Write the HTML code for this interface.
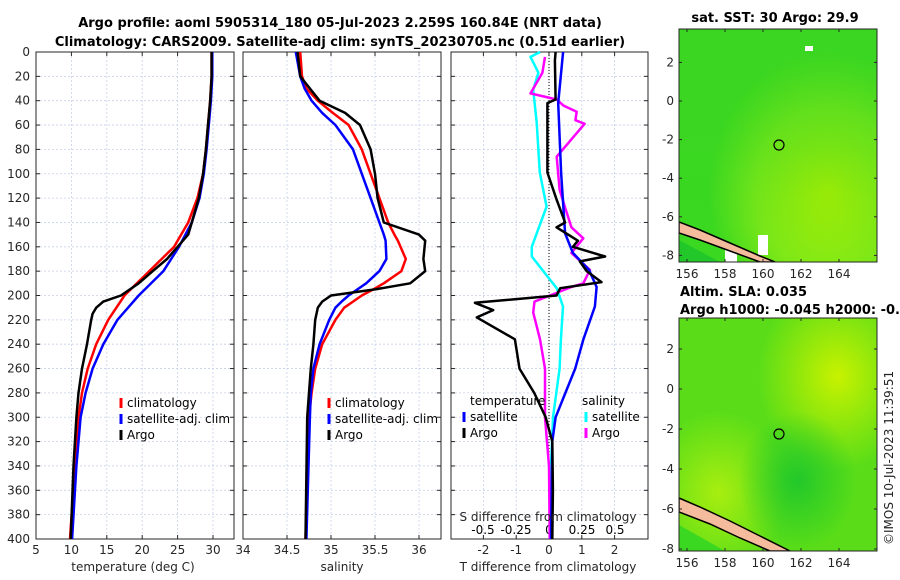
<!DOCTYPE html>
<html><head><meta charset="utf-8"><style>
body{margin:0;background:#fff;}
svg{display:block;font-family:"DejaVu Sans","Liberation Sans",sans-serif;}
.t{font-size:12px;fill:#262626;}
.b{font-size:13px;font-weight:bold;fill:#000;}
</style></head><body>
<svg id="c" width="900" height="580" viewBox="0 0 900 580">
<defs>
<radialGradient id="g1" cx="0.75" cy="0.7" r="0.6"><stop offset="0" stop-color="#b0f000"/><stop offset="0.6" stop-color="#7ee818"/><stop offset="1" stop-color="#3ad820"/></radialGradient>
<linearGradient id="gv" x1="0" y1="0" x2="0" y2="1"><stop offset="0" stop-color="#3cd422" stop-opacity="0.6"/><stop offset="0.5" stop-color="#3cd422" stop-opacity="0.35"/><stop offset="1" stop-color="#3cd422" stop-opacity="0"/></linearGradient>
<radialGradient id="g2" cx="0.8" cy="0.25" r="0.4"><stop offset="0" stop-color="#c8f200"/><stop offset="1" stop-color="#5add18"/></radialGradient>
<radialGradient id="g3" cx="0.2" cy="0.75" r="0.35"><stop offset="0" stop-color="#a8ee10"/><stop offset="1" stop-color="#a8ee10" stop-opacity="0"/></radialGradient>
<radialGradient id="g4" cx="0.6" cy="0.7" r="0.3"><stop offset="0" stop-color="#22c82a"/><stop offset="1" stop-color="#22c82a" stop-opacity="0"/></radialGradient>
<clipPath id="cm1"><rect x="679" y="29" width="198" height="233"/></clipPath>
<clipPath id="cm2"><rect x="679" y="318" width="198" height="233"/></clipPath>
</defs>
<text class="b" x="340" y="27" text-anchor="middle">Argo profile: aoml 5905314_180 05-Jul-2023 2.259S 160.84E (NRT data)</text>
<text class="b" x="340" y="46" text-anchor="middle">Climatology: CARS2009. Satellite-adj clim: synTS_20230705.nc (0.51d earlier)</text>
<g id="p1"></g>
<g id="p2"></g>
<g id="p3"></g>
<text class="t" x="133" y="571" text-anchor="middle" font-size="13">temperature (deg C)</text>
<text class="t" x="342" y="571" text-anchor="middle" font-size="13">salinity</text>
<text class="t" x="548" y="571" text-anchor="middle" font-size="13">T difference from climatology</text>
<text class="t" x="548" y="521" text-anchor="middle" font-size="13" fill="#000">S difference from climatology</text>
<g>
<g clip-path="url(#cm1)">
<rect x="679" y="29" width="198" height="233" fill="url(#g1)"/>
<rect x="679" y="29" width="198" height="233" fill="url(#gv)"/>
<rect x="805" y="46" width="8" height="5" fill="#fff"/>
<rect x="725" y="245" width="12" height="17" fill="#fff"/><rect x="758" y="235" width="10" height="20" fill="#fff"/>
<path d="M679,222 L700,230 L730,243 L760,256 L775,262 L760,262 L730,251 L700,240 L679,233Z" fill="#f4bc9c" stroke="#000" stroke-width="1.5"/>
<path d="M679,240 L720,262 L679,262Z" fill="#22c82a"/>
</g>
<rect x="679" y="29" width="198" height="233" fill="none" stroke="#262626"/>
<circle cx="779" cy="145" r="5" fill="none" stroke="#000" stroke-width="1.2"/>
<text class="b" x="775" y="22" text-anchor="middle">sat. SST: 30 Argo: 29.9</text>
</g>
<g>
<g clip-path="url(#cm2)">
<rect x="679" y="318" width="198" height="233" fill="#5ddc18"/>
<rect x="679" y="318" width="198" height="233" fill="url(#g2)"/>
<rect x="679" y="318" width="198" height="233" fill="url(#g3)"/>
<rect x="679" y="318" width="198" height="233" fill="url(#g4)"/>
<path d="M679,498 L700,507 L730,521 L760,536 L790,551 L770,551 L740,538 L710,524 L679,512Z" fill="#f4bc9c" stroke="#000" stroke-width="1.5"/>
<path d="M679,525 L725,551 L679,551Z" fill="#3ad820"/>
</g>
<rect x="679" y="318" width="198" height="233" fill="none" stroke="#262626"/>
<circle cx="779" cy="434" r="5" fill="none" stroke="#000" stroke-width="1.2"/>
<text class="b" x="680" y="296">Altim. SLA: 0.035</text>
<text class="b" x="680" y="314">Argo h1000: -0.045 h2000: -0.066</text>
</g>
<g id="maxes"></g>
<text class="t" transform="translate(893,545) rotate(-90)">©IMOS 10-Jul-2023 11:39:51</text>
</svg>
<script>
const depthT = [0,20,40,60,80,100,120,140,150,160,170,180,190,200,205,210,215,220,240,260,280,300,340,400];
const argoT  = [29.8,29.8,29.6,29.3,29,28.6,28,27,26.5,25,23.5,21.5,19.5,17,14.5,13.5,13,12.8,12.2,11.5,11,10.7,10.3,9.9];
const depthC = [0,20,40,60,80,100,120,140,160,180,200,220,240,260,280,300,340,400];
const climT  = [29.8,29.8,29.6,29.3,29,28.6,27.8,26.5,24.5,21,17.5,15.2,13.5,12.3,11.5,11,10.5,9.8];
const satT   = [29.9,29.9,29.7,29.4,29.1,28.7,28.1,27,25.2,23,19.5,16.5,14.5,13,12,11.3,10.7,10.1];
const depthS = [0,20,30,40,50,60,80,100,120,140,150,155,170,180,190,195,200,205,210,220,240,260,280,300,400];
const argoS  = [34.62,34.65,34.76,34.87,35.16,35.33,35.45,35.5,35.53,35.6,36.0,36.07,36.05,36.07,35.9,35.5,35.0,34.9,34.85,34.82,34.8,34.77,34.75,34.73,34.71];
const climS  = [34.65,34.67,34.72,34.85,35.02,35.2,35.35,35.45,35.55,35.65,35.72,35.76,35.85,35.8,35.6,35.48,35.35,35.25,35.15,35.05,34.9,34.82,34.78,34.75,34.71];
const satS   = [34.6,34.65,34.7,34.78,34.9,35.05,35.25,35.35,35.45,35.55,35.6,35.62,35.63,35.55,35.4,35.3,35.2,35.12,35.05,34.98,34.87,34.8,34.77,34.76,34.72];
const depthDA = [0,7,39,42,99,121,140,144,155,160,168,172,180,189,194,200,206,212,218,236,260,280,300,320,360,400];
const argoDT  = [0.2,0.18,0.2,-0.05,-0.05,0.23,0.49,0.23,0.88,0.73,1.71,0.94,1.15,1.6,0.34,0.23,-2.26,-1.7,-2.2,-1.04,-0.9,-0.45,-0.1,0.1,0.12,0.1];
const depthDB = [0,42,99,149,165,179,193,209,236,260,280,300,320,400];
const satDT   = [0.43,0.28,0.37,0.49,0.73,1.22,1.45,1.4,1.05,0.8,0.5,0.2,0.1,0.06];
const depthDS1 = [0,4,17,31,58,99,127,160,168,194,209,236,260,300,340,400];
const satDS    = [-0.068,-0.14,-0.08,-0.12,-0.093,-0.07,-0.018,-0.13,-0.13,0.058,0.106,0.09,0.08,0.03,0.015,0.008];
const depthDS2 = [4,17,34,39,44,49,56,59,86,113,127,144,153,165,179,190,193,205,214,236,260,300,340,400];
const argoDS   = [-0.03,-0.05,-0.14,0.058,0.11,0.21,0.2,0.27,0.058,0.08,0.12,0.17,0.26,0.17,0.31,0.26,0.17,-0.11,-0.12,-0.068,-0.03,-0.03,0,0.005];
const depthTicks = [0,20,40,60,80,100,120,140,160,180,200,220,240,260,280,300,320,340,360,380,400];
const tTicks = [5,10,15,20,25,30];
const sTicks = [34,34.5,35,35.5,36];
const dtTicks = [-2,-1,0,1,2];
const dsTicks = [-0.5,-0.25,0,0.25,0.5];
const lonTicks = [156,158,160,162,164];
const latTicks = [2,0,-2,-4,-6,-8];
const NS='http://www.w3.org/2000/svg';
const Y0=52, YS=1.2175, BOT=539;
const yOf=d=>Y0+d*YS;
const xT=v=>36+(v-5)*7.08;
const xS=v=>243+(v-34)*88;
const xDT=v=>549+v*32.8;
const xDS=v=>549+v*132;
function mk(p,tag,a){const e=document.createElementNS(NS,tag);for(const k in a)e.setAttribute(k,a[k]);p.appendChild(e);return e;}
function panel(g,x0,x1,xticks,xf,labels){
  depthTicks.forEach(d=>{mk(g,'line',{x1:x0,x2:x1,y1:yOf(d),y2:yOf(d),stroke:'#c8d0e8','stroke-width':0.8,'stroke-dasharray':'2,2'});});
  xticks.forEach(v=>{const x=xf(v);mk(g,'line',{x1:x,x2:x,y1:Y0,y2:BOT,stroke:'#c8d0e8','stroke-width':0.8,'stroke-dasharray':'2,2'});
    mk(g,'line',{x1:x,x2:x,y1:BOT,y2:BOT-4,stroke:'#262626'});mk(g,'line',{x1:x,x2:x,y1:Y0,y2:Y0+4,stroke:'#262626'});
    if(labels){const t=mk(g,'text',{x:x,y:BOT+15,'text-anchor':'middle',class:'t'});t.textContent=v;
      
      }});
  depthTicks.forEach(d=>{mk(g,'line',{x1:x0,x2:x0+4,y1:yOf(d),y2:yOf(d),stroke:'#262626'});mk(g,'line',{x1:x1,x2:x1-4,y1:yOf(d),y2:yOf(d),stroke:'#262626'});});
  mk(g,'rect',{x:x0,y:Y0,width:x1-x0,height:BOT-Y0,fill:'none',stroke:'#262626','stroke-width':1});
}
function line(g,ds,vs,xf,col,w,name){
  const pts=ds.map((d,i)=>xf(vs[i]).toFixed(1)+','+yOf(d).toFixed(1)).join(' ');
  const e=mk(g,'polyline',{points:pts,fill:'none',stroke:col,'stroke-width':w,'stroke-linejoin':'round'});
  
  
}
function legend(g,x,y,items){
  items.forEach((it,i)=>{const yy=y+i*16;mk(g,'line',{x1:x,x2:x,y1:yy-9,y2:yy+1,stroke:it[1],'stroke-width':3});
    const t=mk(g,'text',{x:x+6,y:yy,class:'t'});t.textContent=it[0];t.style.fill='#000';
    
    });
}
const p1=document.getElementById('p1'),p2=document.getElementById('p2'),p3=document.getElementById('p3');
panel(p1,36,234,tTicks,xT,true);
depthTicks.forEach(d=>{const t=mk(p1,'text',{x:30,y:yOf(d)+4,'text-anchor':'end',class:'t'});t.textContent=d;
  
  });
line(p1,depthC,climT,xT,'#ff0000',2.5,'climatology-temperature-line');
line(p1,depthC,satT,xT,'#0000ff',2.5,'satellite-temperature-line');
line(p1,depthT,argoT,xT,'#000',2.5,'argo-temperature-line');
legend(p1,121,407,[['climatology','#f00'],['satellite-adj. clim','#00f'],['Argo','#000']]);
panel(p2,243,441,sTicks,xS,true);
line(p2,depthS,climS,xS,'#ff0000',2.5,'climatology-salinity-line');
line(p2,depthS,satS,xS,'#0000ff',2.5,'satellite-salinity-line');
line(p2,depthS,argoS,xS,'#000',2.5,'argo-salinity-line');
legend(p2,329,407,[['climatology','#f00'],['satellite-adj. clim','#00f'],['Argo','#000']]);
panel(p3,451,648,dtTicks,xDT,true);
mk(p3,'line',{x1:xDT(0),x2:xDT(0),y1:Y0,y2:BOT,stroke:'#000','stroke-width':1,'stroke-dasharray':'1,2'});
dsTicks.forEach(v=>{const t=mk(p3,'text',{x:xDS(v),y:534,'text-anchor':'middle',class:'t'});t.textContent=v;t.style.fill='#000';
  
  });
line(p3,depthDS1,satDS,xDS,'#00ffff',2.5,'satellite-salinity-diff-line');
line(p3,depthDS2,argoDS,xDS,'#ff00ff',2.5,'argo-salinity-diff-line');
line(p3,depthDB,satDT,xDT,'#0000ff',2.5,'satellite-temperature-diff-line');
line(p3,depthDA,argoDT,xDT,'#000',2.5,'argo-temperature-diff-line');
{const t=mk(p3,'text',{x:470,y:405,class:'t'});t.textContent='temperature';t.style.fill='#000';
 
 
 const s=mk(p3,'text',{x:582,y:405,class:'t'});s.textContent='salinity';s.style.fill='#000';
 
 }
legend(p3,464,421,[['satellite','#00f'],['Argo','#000']]);
legend(p3,586,421,[['satellite','#0ff'],['Argo','#f0f']]);
const mx=document.getElementById('maxes');
const lonX=v=>687+(v-156)*19;
[[29,262,v=>101-v*19.3],[318,551,v=>389-v*20]].forEach(m=>{
  lonTicks.forEach(v=>{const x=lonX(v);mk(mx,'line',{x1:x,x2:x,y1:m[1],y2:m[1]-3,stroke:'#262626'});mk(mx,'line',{x1:x,x2:x,y1:m[0],y2:m[0]+3,stroke:'#262626'});
    const t=mk(mx,'text',{x:x,y:m[1]+16,'text-anchor':'middle',class:'t'});t.textContent=v;
    
    });
  latTicks.forEach(v=>{const y=m[2](v);if(y<m[0]||y>m[1])return;mk(mx,'line',{x1:679,x2:682,y1:y,y2:y,stroke:'#262626'});mk(mx,'line',{x1:877,x2:874,y1:y,y2:y,stroke:'#262626'});
    const t=mk(mx,'text',{x:674,y:y+4,'text-anchor':'end',class:'t'});t.textContent=v;
    
    });
});
</script>
</body></html>
